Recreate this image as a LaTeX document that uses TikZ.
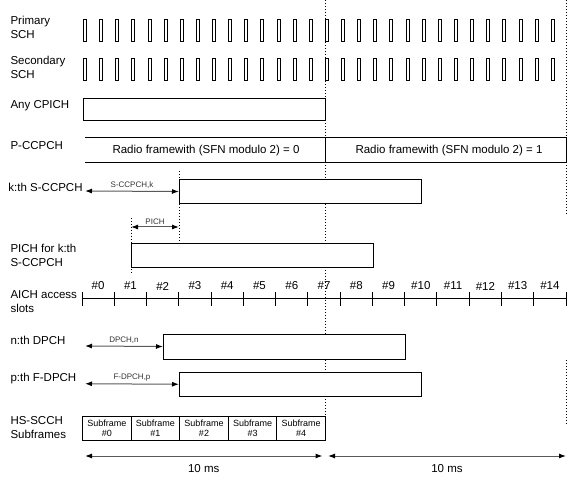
\documentclass[tikz,border=0pt]{standalone}
\usepackage{fontspec}
\setmainfont{Liberation Sans}
\usetikzlibrary{arrows.meta,positioning,calc}

\begin{document}
\begin{tikzpicture}[x=1pt, y=-1pt, line width=1pt, font=\fontsize{11.5}{14}\selectfont,
  lbl/.style={anchor=west, align=left, inner sep=0pt},
  chbox/.style={draw, fill=white, anchor=north west, inner sep=0pt, minimum width=242pt, minimum height=24pt},
  bar/.style={draw, line width=0.9pt, anchor=north west, inner sep=0pt, minimum width=3pt, minimum height=22pt},
  sep/.style={line width=0.9pt, dash pattern=on 1pt off 2pt},
  dur/.style={draw=black!65, {Latex[length=7pt,width=5pt,black]}-{Latex[length=7pt,width=5pt,black]}},
  tag/.style={above, font=\fontsize{8}{9}\selectfont, inner sep=2pt, text=black!80},
  subf/.style={draw, anchor=north west, inner sep=0pt, minimum width=48.6pt, minimum height=24.3pt, align=center, font=\fontsize{9}{10}\selectfont}]
  \useasboundingbox (0,0) rectangle (576,481);

  % Frame boundaries
  \draw[sep] (325,0) -- (325,415);
  \draw[sep] (566,0) -- (566,215);
  \draw[sep] (566,360) -- (566,425);
  \draw[sep] (179,171) -- (179,243);
  \draw[sep] (131,218) -- (131,273);

  % Channel labels
  \node[lbl] (lprim) at (10,27) {Primary\\SCH};
  \node[lbl] (lsec) at (10,67) {Secondary\\SCH};
  \node[lbl] (lcpich) at (10,106) {Any CPICH};
  \node[lbl] (lpccpch) at (10,145.5) {P-CCPCH};
  \node[lbl] (lsccpch) at (8,187) {k:th S-CCPCH};
  \node[lbl] (lpich) at (10,255) {PICH for k:th\\S-CCPCH};
  \node[lbl] (laich) at (10,302) {AICH access\\slots};
  \node[lbl] (ldpch) at (10,340) {n:th DPCH};
  \node[lbl] (lfdpch) at (10,379) {p:th F-DPCH};
  \node[lbl] (lhs) at (10,428) {HS-SCCH\\Subframes};

  % SCH slots
  \foreach \i in {0,...,29} {
    \node[bar] (p\i) at ({83+16.13*\i},19) {};
    \node[bar] (s\i) at ({83+16.13*\i},58.5) {};
  }

  % CPICH and P-CCPCH
  \node[chbox, minimum height=22pt] (cpich) at (83,98) {};
  \draw (85,138) -- (566,138) -- (566,163) -- (85,163);
  \draw (325,138) -- (325,163);
  \node (pc0) at (206,150.5) {Radio framewith (SFN modulo 2) = 0};
  \node (pc1) at (449,150.5) {Radio framewith (SFN modulo 2) = 1};

  % S-CCPCH and PICH
  \node[chbox] (sccpch) at (179,179) {};
  \node[chbox] (pich) at (131,243.5) {};
  \coordinate (sccpchL) at (85,191);
  \coordinate (pichL) at (131,227);
  \coordinate (pichR) at (179,227);
  \draw[dur] (sccpchL) -- (sccpch.west) node[tag, midway] {S-CCPCH,k};
  \draw[dur] (pichL) -- (pichR) node[tag, midway] {PICH};

  % AICH access slots
  \draw (82,299) -- (566,299);
  \foreach \k in {0,...,15}
    \draw ({82+32.27*\k},292.5) -- ++(0,13.5);
  \foreach \k in {0,...,14}
    \node[inner sep=0pt] (a\k) at ({82+32.27*(\k+0.5)},286) {\#\k};

  % DPCH and F-DPCH
  \node[chbox, minimum height=25pt] (dpch) at (163,333.5) {};
  \node[chbox, minimum height=24.5pt] (fdpch) at (179,371.5) {};
  \coordinate (dpchL) at (85,346);
  \coordinate (fdpchL) at (85,383.75);
  \draw[dur] (dpchL) -- (dpch.west) node[tag, midway] {DPCH,n};
  \draw[dur] (fdpchL) -- (fdpch.west) node[tag, midway] {F-DPCH,p};

  % HS-SCCH subframes
  \foreach \i in {0,...,4}
    \node[subf] (sf\i) at ({82+48.6*\i},415.7) {Subframe\\\#\i};

  % Frame lengths
  \coordinate (t0) at (85,456);
  \coordinate (t1) at (322.5,456);
  \coordinate (t2) at (328,456);
  \coordinate (t3) at (566,456);
  \draw[dur] (t0) -- (t1) node[midway, below=8pt, inner sep=0pt] {10 ms};
  \draw[dur] (t2) -- (t3) node[midway, below=8pt, inner sep=0pt] {10 ms};
\end{tikzpicture}
\end{document}
